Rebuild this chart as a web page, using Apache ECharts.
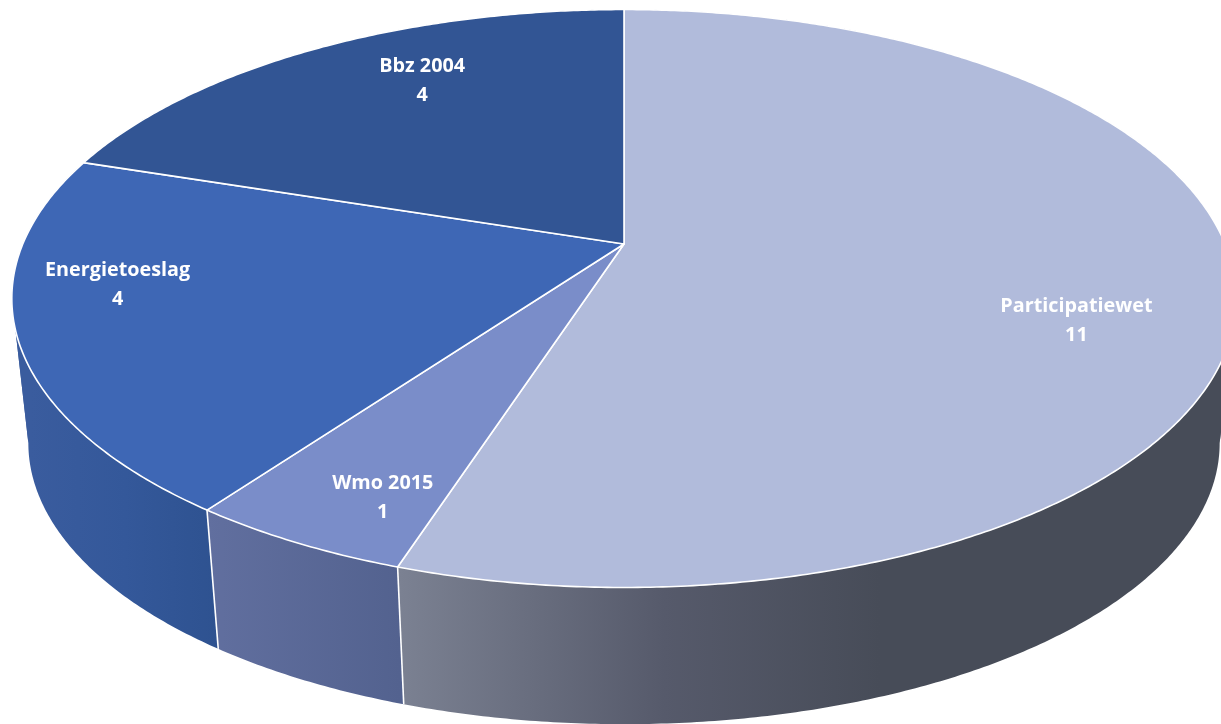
<!DOCTYPE html>
<html>
<head>
<meta charset="utf-8">
<style>html,body{margin:0;padding:0;background:#fff}#c{width:1221px;height:724px}</style>
<script src="https://cdn.jsdelivr.net/npm/echarts@6/dist/echarts.min.js"></script>
</head>
<body>
<div id="c"></div>
<script>
// Data
const categories = ['Participatiewet', 'Wmo 2015', 'Energietoeslag', 'Bbz 2004'];
const values = [11, 1, 4, 4];

// Styles
const topColors = ['#b1bbdb', '#7a8dc9', '#3e67b5', '#325594'];
const wallStops = [
  [[0, '#7b8192'], [0.55, '#565a6b'], [1, '#474c58']],
  [[0, '#616f9f'], [1, '#53628f']],
  [[0, '#3a5c9e'], [0.5, '#34589a'], [1, '#2e5290']],
  [[0, '#2c4a80'], [1, '#2c4a80']]
];
const wallRange = [[400, 880], [208, 400], [30, 220], [80, 620]];
// Label placement: fraction of the radius, then a nudge in pixels
const labelRadius = 0.75;
const labelNudge = [[-3, 43], [-7, 41], [-58, -27], [36, -11]];

// Projection of the pie's plane onto the screen
const cx = 624, cy = 244, A = 601.2, B = 278.7, P = 0.1886;
const VPY = 5650, DEPTH_SCALE = 0.973;
function project(theta, r) {
  const u = r * Math.sin(theta), v = -r * Math.cos(theta), d = 1 - P * v;
  return [cx + A * u / d, cy + B * v / d];
}
function lower(p) {
  return [cx + (p[0] - cx) * DEPTH_SCALE, VPY + (p[1] - VPY) * DEPTH_SCALE];
}
// Angles where the disc's outline turns from front to back
const silhouette = [Math.acos(-P), 2 * Math.PI - Math.acos(-P)];
const total = values.reduce((a, b) => a + b, 0);
function sliceAngles(i) {
  let before = 0;
  for (let k = 0; k < i; k++) before += values[k];
  return [before / total * 2 * Math.PI, (before + values[i]) / total * 2 * Math.PI];
}
function arc(a0, a1) {
  const n = Math.max(8, Math.ceil((a1 - a0) * 120)), pts = [];
  for (let k = 0; k <= n; k++) pts.push(project(a0 + (a1 - a0) * k / n, 1));
  return pts;
}

function renderWall(params, api) {
  const i = params.dataIndex, [a0, a1] = sliceAngles(i);
  const cuts = [a0].concat(silhouette.filter(s => s > a0 && s < a1), [a1]);
  const r = wallRange[i];
  const fill = { type: 'linear', x: r[0], y: 0, x2: r[1], y2: 0, global: true,
    colorStops: wallStops[i].map(s => ({ offset: s[0], color: s[1] })) };
  const children = [];
  for (let k = 0; k + 1 < cuts.length; k++) {
    const rim = arc(cuts[k], cuts[k + 1]);
    children.push({
      type: 'polygon',
      shape: { points: rim.concat(rim.map(lower).reverse()) },
      style: { fill }
    });
  }
  return { type: 'group', children };
}
function renderSeam(params, api) {
  const [a0] = sliceAngles(params.dataIndex);
  const p = project(a0, 1), q = lower(p);
  return { type: 'line', shape: { x1: p[0], y1: p[1], x2: q[0], y2: q[1] },
    style: { stroke: '#ffffff', lineWidth: 1.6 } };
}
function renderTop(params, api) {
  const i = params.dataIndex, [a0, a1] = sliceAngles(i);
  return {
    type: 'polygon',
    shape: { points: [[cx, cy]].concat(arc(a0, a1)) },
    style: { fill: topColors[i], stroke: '#ffffff', lineWidth: 1.6, lineJoin: 'round' }
  };
}
function renderLabel(params, api) {
  const i = params.dataIndex, [a0, a1] = sliceAngles(i);
  const p = project((a0 + a1) / 2, labelRadius), n = labelNudge[i];
  return {
    type: 'text',
    x: p[0] + n[0], y: p[1] + n[1],
    style: {
      text: categories[i] + '\n' + api.value(0),
      fill: '#ffffff', font: 'bold 19.8px "Open Sans"', align: 'center', verticalAlign: 'middle',
      lineHeight: 29
    }
  };
}

const chart = echarts.init(document.getElementById('c'), null, { renderer: 'canvas' });
const seriesData = values.map(v => [v]);
const base = { type: 'custom', coordinateSystem: 'none', data: seriesData, animation: false, silent: true,
  encode: { value: 0 } };
chart.setOption({
  backgroundColor: '#ffffff',
  animation: false,
  series: [
    Object.assign({}, base, { name: 'wall', z: 1, renderItem: renderWall }),
    Object.assign({}, base, { name: 'seam', z: 2, renderItem: renderSeam }),
    Object.assign({}, base, { name: 'top', z: 3, renderItem: renderTop }),
    Object.assign({}, base, { name: 'label', z: 4, renderItem: renderLabel })
  ]
});
</script>
</body>
</html>
